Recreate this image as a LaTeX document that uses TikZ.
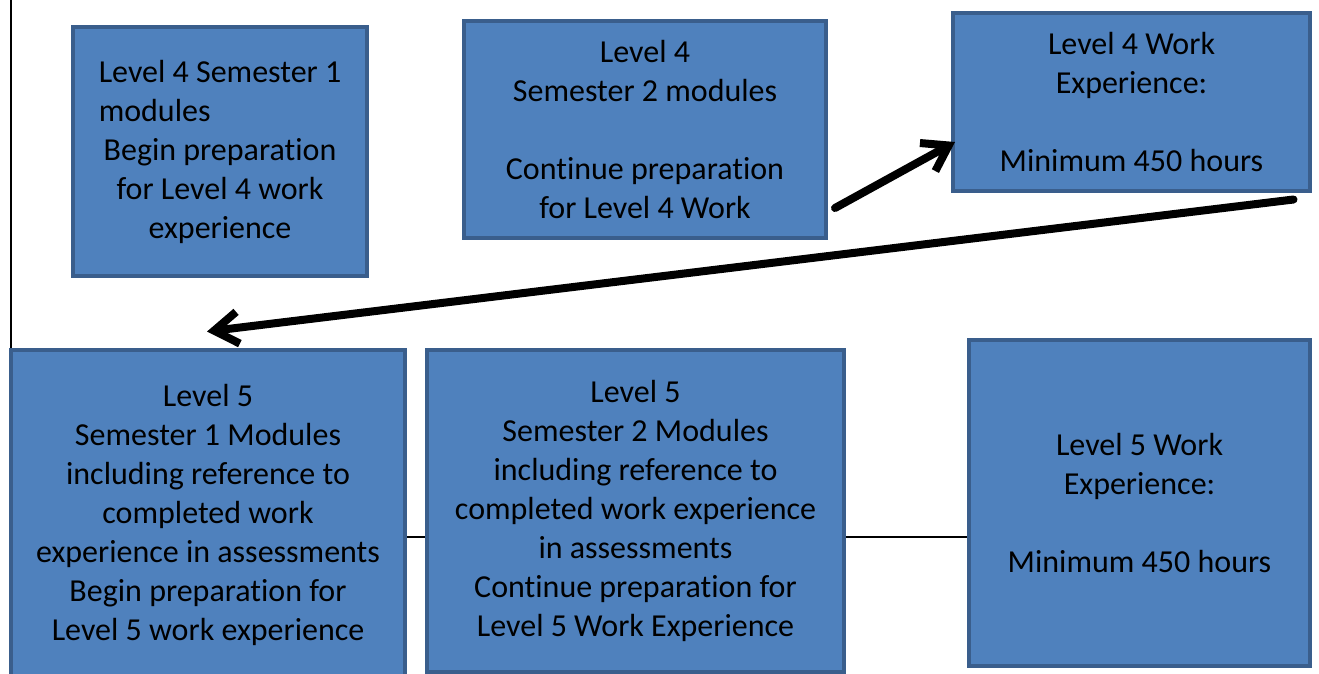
\documentclass[tikz,border=0pt]{standalone}
\usepackage{fontspec}
\setmainfont{Carlito}[Ligatures=NoCommon]
\usepackage{calc}
\usetikzlibrary{arrows.meta}
\usetikzlibrary{backgrounds}

\begin{document}
\begin{tikzpicture}[x=1pt, y=-1pt, inner sep=0pt]

    % style
    \definecolor{boxfill}{RGB}{79, 129, 189}
    \definecolor{boxline}{RGB}{58, 94, 140}
    \tikzset{stagebox/.style={rectangle, fill=boxfill, draw=boxline, line width=4pt, align=center, font=\fontsize{32}{39}\selectfont}};
    \tikzset{flow/.style={-{Straight Barb[length=24pt, width=32pt, line width=8pt]}, line width=8pt, line cap=round, line join=round}};

    % page frame
    \useasboundingbox (0,0) rectangle (1319,673);

    % Level 4 row
    \node [stagebox, minimum width=294pt, minimum height=249pt] (lvlfourA) at (220,151.5) {Level 4 Semester 1\\ \makebox[\widthof{Level 4 Semester 1}][l]{modules}\\ Begin preparation\\ for Level 4 work\\ experience};
    \node [stagebox, minimum width=362pt, minimum height=217pt] (lvlfourB) at (645,129.5) {Level 4\\ Semester 2 modules\\[39pt] Continue preparation\\ for Level 4 Work};
    \node [stagebox, minimum width=357pt, minimum height=178pt] (lvlfourWork) at (1131.5,102) {Level 4 Work\\ Experience:\\[39pt] Minimum 450 hours};

    % Level 5 row
    \node [stagebox, minimum width=394pt, minimum height=330pt] (lvlfiveA) at (208,515) {Level 5\\ Semester 1 Modules\\ including reference to\\ completed work\\ experience in assessments\\ Begin preparation for\\ Level 5 work experience};
    \node [stagebox, minimum width=417pt, minimum height=322pt] (lvlfiveB) at (635.5,511) {Level 5\\ Semester 2 Modules\\ including reference to\\ completed work experience\\ in assessments\\ Continue preparation for\\ Level 5 Work Experience};
    \node [stagebox, minimum width=341pt, minimum height=326pt] (lvlfiveWork) at (1139.5,503) {Level 5 Work\\ Experience:\\[39pt] Minimum 450 hours};

    % thin rules behind the boxes
    \coordinate (TopLeft) at (11,0);
    \coordinate (MidRule) at (0,537);
    \begin{scope}[on background layer]
    \draw [line width=2pt] (TopLeft) -- (TopLeft |- lvlfiveA.north);
    \draw [line width=2pt] (lvlfiveA.east |- MidRule) -- (lvlfiveWork.west |- MidRule);
    \end{scope}

    % arrows
    \draw [flow] ([shift={(7,-32)}]lvlfourB.south east) -- ([shift={(4,40)}]lvlfourWork.west);
    \draw [flow] ([shift={(-18.5,6.5)}]lvlfourWork.south east) -- ([shift={(-1,-16.5)}]lvlfiveA.north);

\end{tikzpicture}
\end{document}
